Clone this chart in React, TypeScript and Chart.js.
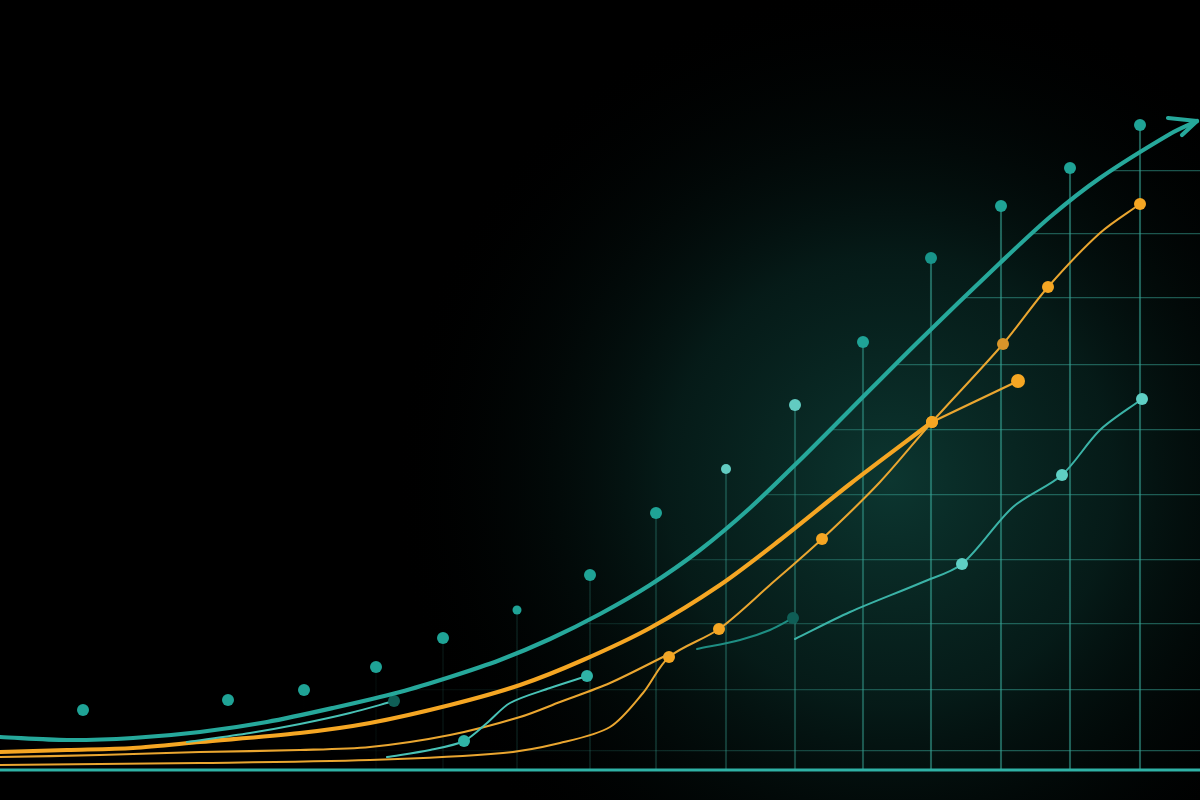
import React, { useEffect, useRef } from "react";
import Chart from "chart.js/auto";

// y values are measured upward from the bottom edge (0..800), x from the left edge (0..1200)
const mainX = [0, 67, 133, 200, 267, 333, 400, 450, 500, 550, 600, 650, 700, 750, 800, 850, 918, 1000, 1050, 1100, 1170, 1197];
const mainY = [63, 60, 62, 68, 78, 92, 108, 123, 140, 161, 186, 215, 250, 292, 340, 390, 458, 537, 583, 622, 666, 679];

const arrowX = [1168, 1197, 1182];
const arrowY = [682, 679, 665];

const orangeThickX = [0, 67, 133, 200, 300, 370, 450, 520, 583, 650, 720, 780, 850, 932];
const orangeThickY = [48, 50, 52, 58, 67, 77, 95, 115, 140, 172, 215, 260, 316, 378];

const orangeForkX = [932, 1018];
const orangeForkY = [378, 419];

const orangeAX = [0, 100, 200, 300, 370, 450, 520, 560, 610, 669];
const orangeAY = [43, 45, 48, 50, 53, 65, 83, 98, 117, 146];

const orangeBX = [0, 200, 370, 503, 560, 610, 643, 669, 719, 770, 822, 880, 932, 1003, 1048, 1100, 1140];
const orangeBY = [35, 37, 40, 47, 57, 73, 107, 143, 171, 215, 261, 318, 378, 456, 513, 567, 596];
const orangeBDots = [669, 719, 822, 932, 1003, 1048, 1140];

const tealAX = [187, 250, 300, 350, 394];
const tealAY = [58, 67, 76, 87, 99];

const tealBX = [387, 430, 464, 487, 510, 550, 587];
const tealBY = [43, 50, 59, 77, 97, 112, 124];
const tealBDots = [464, 587];

const tealCX = [697, 740, 770, 793];
const tealCY = [151, 160, 170, 182];

const tealDX = [795, 850, 923, 962, 1013, 1062, 1100, 1142];
const tealDY = [161, 188, 218, 236, 293, 325, 370, 401];
const tealDDots = [962, 1062, 1142];

const dotX = [83, 228, 304, 376, 443, 517, 590, 656, 726, 795, 863, 931, 1001, 1070, 1140];
const dotY = [90, 100, 110, 133, 162, 190, 225, 287, 331, 395, 458, 542, 594, 632, 675];
const dotLight = [726, 795];

const gridY = [49, 110, 176, 240, 305, 370, 435, 502, 566, 629];
const baseY = 30;

const TEAL = "#26a89b";
const TEAL_THIN = "#48c2b6";
const TEAL_DARK = "#0f5e56";
const ORANGE = "#f5a623";
const ORANGE_THIN = "#eaa630";

const pts = (xs: number[], ys: number[]) => xs.map((x, i) => ({ x, y: ys[i] }));

export default function App() {
  const ref = useRef<HTMLCanvasElement | null>(null);

  useEffect(() => {
    document.body.style.margin = "0";
    document.body.style.background = "#000";
    const canvas = ref.current;
    if (!canvas) return;

    const fadeGrad = (chart: any, a: number) => {
      const g = chart.ctx.createLinearGradient(300, 0, 1200, 0);
      g.addColorStop(0, "rgba(55,160,145,0)");
      g.addColorStop(0.35, `rgba(55,160,145,${a * 0.35})`);
      g.addColorStop(0.7, `rgba(55,165,150,${a})`);
      g.addColorStop(1, `rgba(55,165,150,${a})`);
      return g;
    };

    const bgPlugin = {
      id: "bg",
      beforeDraw(chart: any) {
        const { ctx, width, height } = chart;
        ctx.save();
        ctx.fillStyle = "#000";
        ctx.fillRect(0, 0, width, height);
        const g = ctx.createRadialGradient(890, 480, 0, 890, 480, 500);
        g.addColorStop(0, "rgba(16,72,64,0.75)");
        g.addColorStop(0.45, "rgba(10,48,43,0.55)");
        g.addColorStop(1, "rgba(0,0,0,0)");
        ctx.fillStyle = g;
        ctx.fillRect(0, 0, width, height);
        ctx.restore();
        // clip the grid to the region below the main curve
        const idx = chart.data.datasets.findIndex((d: any) => d.label === "main");
        const meta = chart.getDatasetMeta(idx);
        if (meta && meta.data && meta.data.length) {
          ctx.save();
          ctx.beginPath();
          const first = meta.data[0];
          ctx.moveTo(first.x, first.y);
          meta.data.forEach((p: any) => ctx.lineTo(p.x, p.y));
          const last = meta.data[meta.data.length - 1];
          ctx.lineTo(width, last.y);
          ctx.lineTo(width, height);
          ctx.lineTo(0, height);
          ctx.closePath();
          ctx.clip();
          chart.$gridClipped = true;
        }
      },
      beforeDatasetsDraw(chart: any) {
        if (chart.$gridClipped) {
          chart.ctx.restore();
          chart.$gridClipped = false;
        }
      },
    };

    const lineDs = (label: string, xs: number[], ys: number[], color: string, width: number, extra: any = {}) => ({
      type: "line",
      label,
      data: pts(xs, ys),
      borderColor: color,
      backgroundColor: color,
      borderWidth: width,
      pointRadius: 0,
      tension: 0.3,
      fill: false,
      borderCapStyle: "round",
      borderJoinStyle: "round",
      order: 2,
      ...extra,
    });

    const dotRadii = (xs: number[], dots: number[], r: number) => xs.map((x) => (dots.includes(x) ? r : 0));

    const chart = new Chart(canvas, {
      type: "line",
      data: {
        datasets: [
          {
            type: "bar",
            label: "drops",
            data: dotX.map((x, i) => ({ x, y: [baseY, dotY[i]] })),
            backgroundColor: (c: any) => fadeGrad(c.chart, 0.55),
            borderWidth: 0,
            barThickness: 1.4,
            grouped: false,
            order: 10,
          } as any,
          {
            type: "line",
            label: "axis",
            data: [{ x: 0, y: baseY }, { x: 1200, y: baseY }],
            borderColor: "#2fb2a6",
            borderWidth: 3,
            pointRadius: 0,
            order: 9,
          } as any,
          lineDs("tealA", tealAX, tealAY, TEAL_THIN, 2, {
            pointRadius: dotRadii(tealAX, [394], 6),
            pointBackgroundColor: TEAL_DARK,
            pointBorderWidth: 0,
          }),
          lineDs("tealB", tealBX, tealBY, TEAL_THIN, 2, {
            pointRadius: dotRadii(tealBX, tealBDots, 6),
            pointBackgroundColor: "#2fb3a6",
            pointBorderWidth: 0,
          }),
          lineDs("tealC", tealCX, tealCY, "#1e8e83", 2, {
            pointRadius: dotRadii(tealCX, [793], 6),
            pointBackgroundColor: TEAL_DARK,
            pointBorderWidth: 0,
          }),
          lineDs("tealD", tealDX, tealDY, "#3bb3a7", 2, {
            pointRadius: dotRadii(tealDX, tealDDots, 6),
            pointBackgroundColor: "#5fcfc4",
            pointBorderWidth: 0,
          }),
          lineDs("orangeA", orangeAX, orangeAY, ORANGE_THIN, 2.2),
          lineDs("orangeB", orangeBX, orangeBY, ORANGE_THIN, 2, {
            pointRadius: dotRadii(orangeBX, orangeBDots, 6),
            pointBackgroundColor: orangeBX.map((x) => (x === 1003 ? "#d9952a" : ORANGE)),
            pointBorderWidth: 0,
          }),
          lineDs("orangeThick", orangeThickX, orangeThickY, ORANGE, 4.2),
          lineDs("orangeFork", orangeForkX, orangeForkY, ORANGE_THIN, 2.4, {
            pointRadius: [6, 7],
            pointBackgroundColor: ORANGE,
            pointBorderWidth: 0,
          }),
          lineDs("main", mainX, mainY, TEAL, 4.2, { order: 1 }),
          lineDs("arrow", arrowX, arrowY, TEAL, 4.2, { tension: 0, order: 1 }),
          {
            type: "line",
            label: "dots",
            data: pts(dotX, dotY),
            showLine: false,
            pointRadius: dotX.map((x) => (x === 517 ? 4.5 : x === 726 ? 5 : 6)),
            pointBackgroundColor: dotX.map((x) => (dotLight.includes(x) ? "#62cbc1" : x === 931 ? "#18948a" : "#1fa396")),
            pointBorderWidth: 0,
            order: 0,
          } as any,
        ] as any,
      },
      options: {
        animation: false,
        responsive: true,
        maintainAspectRatio: false,
        layout: { padding: 0, autoPadding: false },
        plugins: { legend: { display: false }, tooltip: { enabled: false } },
        scales: {
          x: { type: "linear", min: 0, max: 1200, display: false, offset: false },
          y: {
            type: "linear",
            min: 0,
            max: 800,
            display: true,
            afterBuildTicks: (axis: any) => {
              axis.ticks = gridY.map((v) => ({ value: v }));
            },
            ticks: { display: false },
            border: { display: false },
            grid: {
              drawTicks: false,
              lineWidth: 1.3,
              color: (c: any) => fadeGrad(c.chart, 0.5),
            },
          },
        },
      } as any,
      plugins: [bgPlugin],
    });

    return () => chart.destroy();
  }, []);

  return (
    <div style={{ width: 1200, height: 800, background: "#000", position: "relative" }}>
      <canvas ref={ref} />
    </div>
  );
}
